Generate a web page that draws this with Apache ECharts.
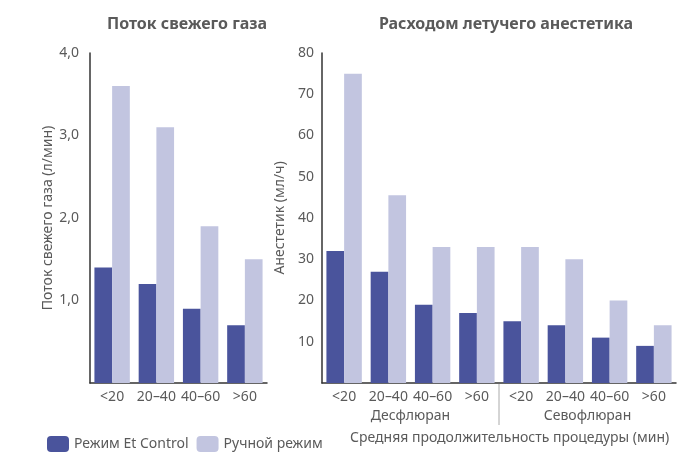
<!DOCTYPE html>
<html><head><meta charset="utf-8">
<script src="https://cdn.jsdelivr.net/npm/echarts@6/dist/echarts.min.js"></script>
<style>html,body{margin:0;padding:0;background:#fff}#c{width:682px;height:453px}</style>
</head><body><div id="c"></div>
<script>
const leftCategories = ['<20', '20–40', '40–60', '>60'];
const leftEtControl = [1.4, 1.2, 0.9, 0.7];
const leftManual = [3.6, 3.1, 1.9, 1.5];

const rightCategories = ['<20', '20–40', '40–60', '>60', '<20 ', '20–40 ', '40–60 ', '>60 '];
const rightGroups = ['Десфлюран', 'Севофлюран'];
const rightEtControl = [32, 27, 19, 17, 15, 14, 11, 9];
const rightManual = [75, 45.5, 33, 33, 33, 30, 20, 14];

const seriesNames = ['Режим Et Control', 'Ручной режим'];
const titles = ['Поток свежего газа', 'Расходом летучего анестетика'];
const yNames = ['Поток свежего газа (л/мин)', 'Анестетик (мл/ч)'];
const xName = 'Средняя продолжительность процедуры (мин)';

const DARK = '#4a549c', LIGHT = '#c2c5e0', TXT = '#5a5a5a';
const FONT = 'Noto Sans';
const FS = 14;
const chart = echarts.init(document.getElementById('c'));
const axisLine = {show: true, lineStyle: {color: '#333', width: 1.5}};
chart.setOption({
  textStyle: {fontFamily: FONT},
  animation: false,
  title: [
    {text: titles[0], left: 182, top: 11, textAlign: 'center', textStyle: {fontFamily: FONT, fontSize: 16, fontWeight: 'bold', color: TXT}},
    {text: titles[1], left: 501, top: 11, textAlign: 'center', textStyle: {fontFamily: FONT, fontSize: 16, fontWeight: 'bold', color: TXT}}
  ],
  legend: {
    left: 42, top: 431, itemWidth: 22, itemHeight: 16, itemGap: 8,
    data: seriesNames,
    textStyle: {fontFamily: FONT, fontSize: FS, color: TXT}
  },
  grid: [
    {left: 90, right: 415, top: 53, bottom: 70},
    {left: 322, right: 6, top: 53, bottom: 70}
  ],
  xAxis: [
    {type: 'category', gridIndex: 0, data: leftCategories, axisLine: axisLine, axisTick: {show: false},
     axisLabel: {color: TXT, fontSize: FS, margin: 7, interval: 0}},
    {type: 'category', gridIndex: 1, data: rightCategories, axisLine: axisLine, axisTick: {show: false},
     axisLabel: {color: TXT, fontSize: FS, margin: 7, interval: 0, formatter: function (v) { return v.trim(); }}},
    {type: 'category', gridIndex: 1, data: rightGroups, position: 'bottom', axisLine: {show: false}, axisTick: {show: false},
     axisLabel: {color: TXT, fontSize: FS, margin: 26, interval: 0}}
  ],
  yAxis: [
    {type: 'value', gridIndex: 0, min: 0, max: 4, interval: 1, axisLine: axisLine, axisTick: {show: false}, splitLine: {show: false},
     axisLabel: {color: TXT, fontSize: FS, margin: 11, showMinLabel: false, formatter: function (v) { return v === 0 ? '' : v.toFixed(1).replace('.', ','); }},
     name: yNames[0], nameLocation: 'middle', nameGap: 25, nameTextStyle: {color: TXT, fontSize: FS, fontFamily: FONT}},
    {type: 'value', gridIndex: 1, min: 0, max: 80, interval: 10, axisLine: axisLine, axisTick: {show: false}, splitLine: {show: false},
     axisLabel: {color: TXT, fontSize: FS, margin: 8, showMinLabel: false, formatter: function (v) { return v === 0 ? '' : String(v); }},
     name: yNames[1], nameLocation: 'middle', nameGap: 25, nameTextStyle: {color: TXT, fontSize: FS, fontFamily: FONT}}
  ],
  series: [
    {name: seriesNames[0], type: 'bar', xAxisIndex: 0, yAxisIndex: 0, data: leftEtControl, itemStyle: {color: DARK}, barGap: '0%', barCategoryGap: '20%'},
    {name: seriesNames[1], type: 'bar', xAxisIndex: 0, yAxisIndex: 0, data: leftManual, itemStyle: {color: LIGHT}, barGap: '0%', barCategoryGap: '20%'},
    {name: seriesNames[0], type: 'bar', xAxisIndex: 1, yAxisIndex: 1, data: rightEtControl, itemStyle: {color: DARK}, barGap: '0%', barCategoryGap: '20%'},
    {name: seriesNames[1], type: 'bar', xAxisIndex: 1, yAxisIndex: 1, data: rightManual, itemStyle: {color: LIGHT}, barGap: '0%', barCategoryGap: '20%'}
  ]
});
// divider between the two drug groups, positioned from the axis scale
const p3 = chart.convertToPixel({xAxisIndex: 1, yAxisIndex: 1}, [3, 0]);
const p4 = chart.convertToPixel({xAxisIndex: 1, yAxisIndex: 1}, [4, 0]);
const dx = (p3[0] + p4[0]) / 2;
chart.setOption({
  graphic: [
    {type: 'line', shape: {x1: dx, y1: p3[1] + 1, x2: dx, y2: p3[1] + 42}, style: {stroke: '#aaa', lineWidth: 1}},
    {type: 'text', left: 350, top: 431, style: {text: xName, fontFamily: FONT, fontSize: FS, fill: TXT}}
  ]
});
</script></body></html>
